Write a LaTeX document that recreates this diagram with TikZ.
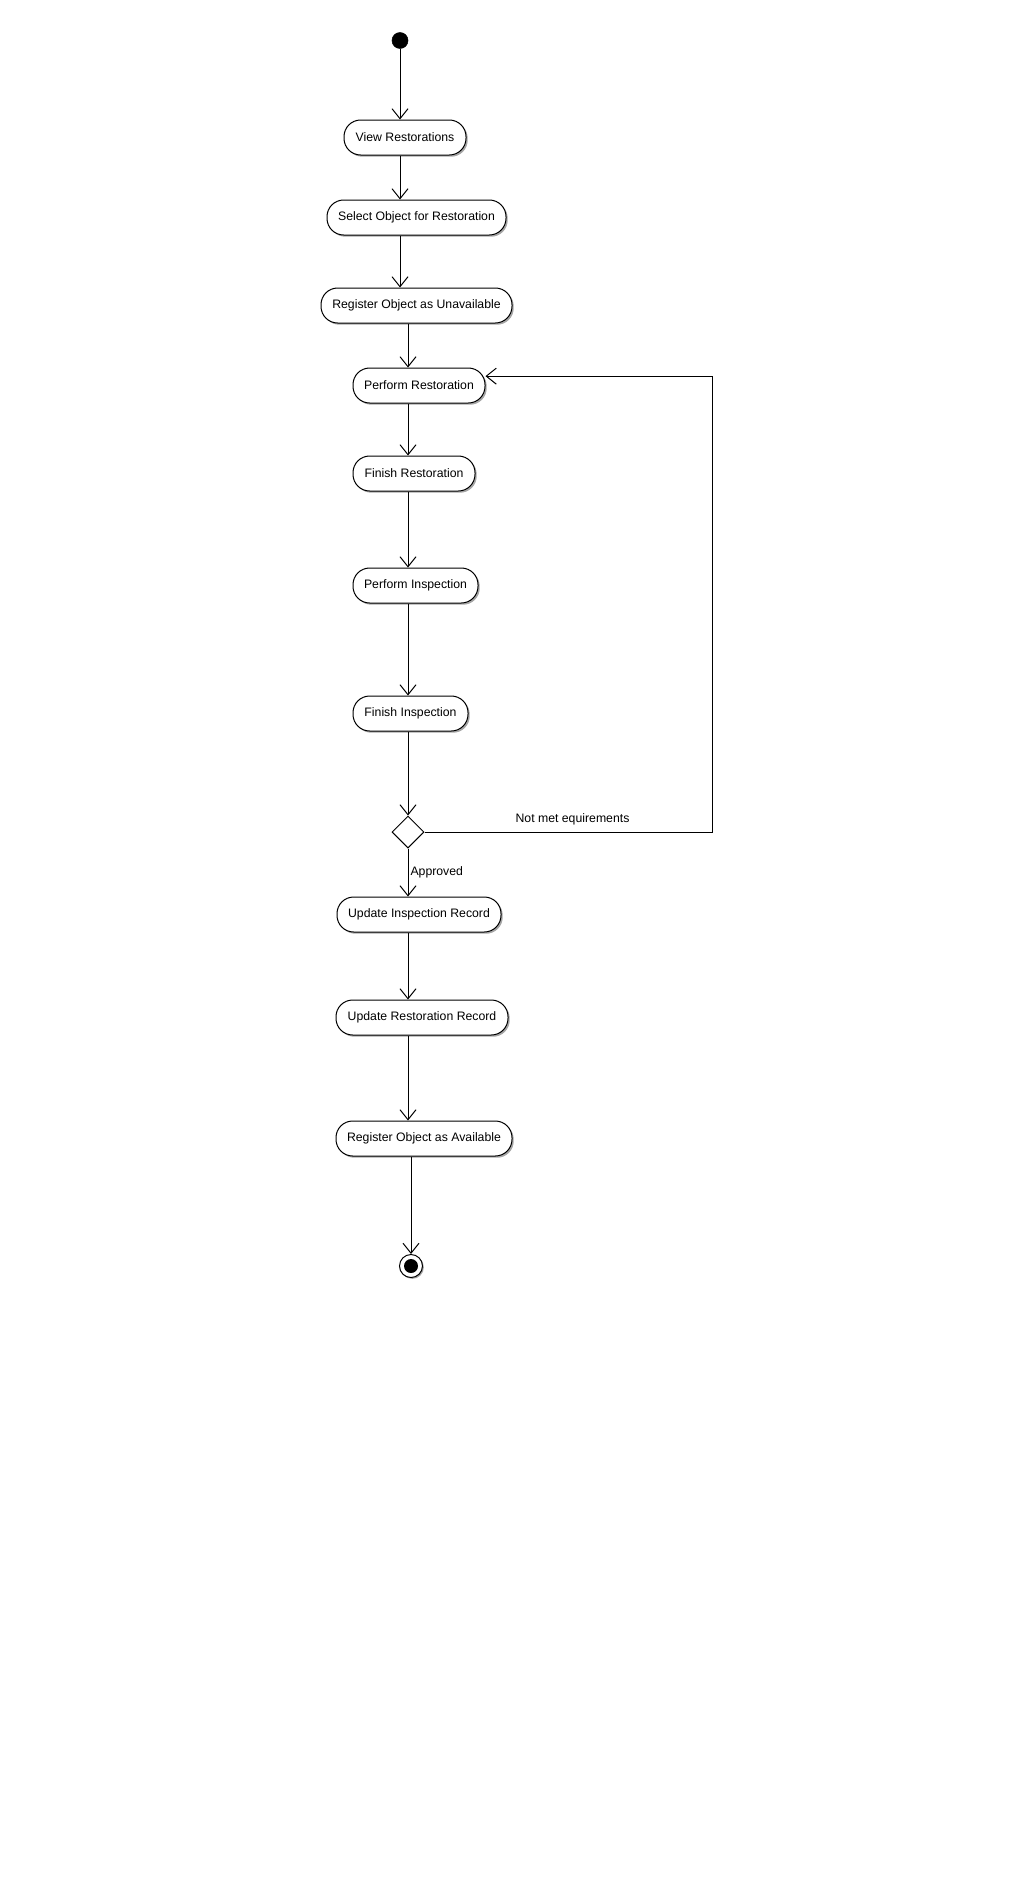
\documentclass[tikz,border=0pt]{standalone}
\usepackage{fontspec}
\setmainfont{Liberation Sans}
\usetikzlibrary{arrows.meta,shapes.geometric,shadows}
\begin{document}
\begin{tikzpicture}[x=0.75pt,y=-0.75pt,
  act/.style={draw=black, line width=0.75pt, fill=white, rounded corners=12.5pt,
    minimum height=26.25pt, inner sep=0pt, font=\fontsize{9.2pt}{11pt}\selectfont,
    drop shadow={shadow xshift=1.3pt, shadow yshift=-1.3pt, fill=black!35, opacity=1}},
  arr/.style={draw=black, line width=0.75pt, -{Straight Barb[length=7.5pt,width=12pt,line width=0.75pt]}},
  lbl/.style={font=\fontsize{9.2pt}{11pt}\selectfont, inner sep=0pt}]
\useasboundingbox[fill=white] (0,0) rectangle (1032,1888);
% start
\node[circle, fill=black, draw=black, minimum size=12pt, inner sep=0pt] (start) at (400,40.5) {};
% activities
\node[act, minimum width=91.5pt]  (view)     at (405,137.5)  {View Restorations};
\node[act, minimum width=134.25pt](select)   at (416.5,217.5){Select Object for Restoration};
\node[act, minimum width=143.25pt](regun)    at (416.5,305.5){Register Object as Unavailable};
\node[act, minimum width=99pt]    (perfrest) at (419,385.5)  {Perform Restoration};
\node[act, minimum width=91.5pt]  (finrest)  at (414,473.5)  {Finish Restoration};
\node[act, minimum width=93.75pt] (perfinsp) at (415.5,585.5){Perform Inspection};
\node[act, minimum width=86.25pt] (fininsp)  at (410.5,713.5){Finish Inspection};
\node[diamond, draw=black, line width=0.75pt, fill=white, minimum width=24pt, minimum height=24pt, inner sep=0pt] (dia) at (408,832) {};
\node[act, minimum width=123pt]   (updinsp)  at (419,914.5)  {Update Inspection Record};
\node[act, minimum width=129pt]   (updrest)  at (422,1017.5) {Update Restoration Record};
\node[act, minimum width=132pt]   (regav)    at (424,1138.5) {Register Object as Available};
% end
\node[circle, draw=black, line width=0.75pt, fill=white, minimum size=17.25pt, inner sep=0pt,
  drop shadow={shadow xshift=1pt, shadow yshift=-1pt, fill=black!35, opacity=1}] (end) at (411,1266) {};
\node[circle, fill=black, minimum size=10.5pt, inner sep=0pt] (endin) at (end) {};
\coordinate (loopx) at (712,0);
% connectors
\draw[arr] (start) -- (start |- view.north);
\draw[arr] (view.south -| start) -- (select.north -| start);
\draw[arr] (select.south -| start) -- (regun.north -| start);
\draw[arr] (regun.south -| dia) -- (perfrest.north -| dia);
\draw[arr] (perfrest.south -| dia) -- (finrest.north -| dia);
\draw[arr] (finrest.south -| dia) -- (perfinsp.north -| dia);
\draw[arr] (perfinsp.south -| dia) -- (fininsp.north -| dia);
\draw[arr] (fininsp.south -| dia) -- (dia.north);
\draw[arr] (dia.south) -- (updinsp.north -| dia) node[pos=0.5, right=1.5pt, lbl] {Approved};
\draw[arr] (updinsp.south -| dia) -- (updrest.north -| dia);
\draw[arr] (updrest.south -| dia) -- (regav.north -| dia);
\draw[arr] (regav.south -| end) -- (end.north);
\draw[arr] (dia.east) -- (dia.east -| loopx) -- (loopx |- perfrest.8) -- (perfrest.8);
\node[lbl] (notmet) at (572.5,819) {Not met equirements};
\end{tikzpicture}
\end{document}
